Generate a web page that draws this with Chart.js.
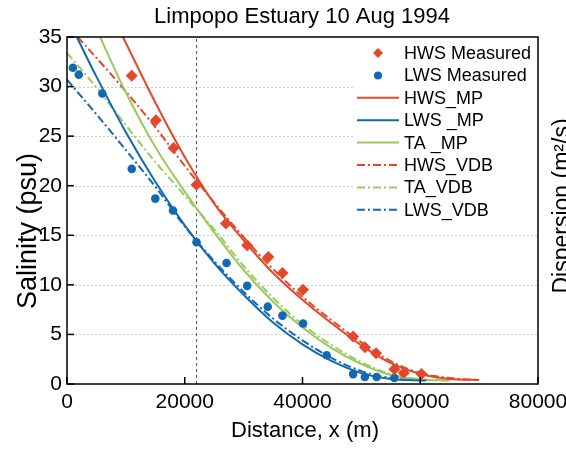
<!DOCTYPE html>
<html>
<head>
<meta charset="utf-8">
<script src="https://cdn.jsdelivr.net/npm/chart.js@4.4.0/dist/chart.umd.min.js"></script>
<style>
  html, body { margin: 0; padding: 0; background: #fff; overflow: hidden; }
</style>
</head>
<body>
<canvas id="chart" width="566" height="451"></canvas>
<script>
// measured salinity
const hwsDist = [11000, 15100, 18100, 22000, 27000, 30600, 34200, 36600, 40100, 48600, 50600, 52500, 55600, 57200, 60200];
const hwsSal  = [31.1, 26.6, 23.8, 20.1, 16.2, 14.0, 12.8, 11.2, 9.5, 4.8, 3.7, 3.1, 1.5, 1.1, 1.0];
const lwsDist = [1000, 2000, 6000, 11000, 15000, 18000, 22000, 27100, 30600, 34100, 36600, 40100, 44100, 48600, 50600, 52600, 55600];
const lwsSal  = [31.9, 31.2, 29.3, 21.7, 18.7, 17.5, 14.3, 12.2, 9.9, 7.8, 6.9, 6.1, 2.9, 1.0, 0.7, 0.7, 0.6];

// model curves
const hwsMpX = [9000, 10000, 15000, 20000, 25000, 30000, 35000, 40000, 45000, 50000, 55000, 60000, 65000, 70000];
const hwsMpY = [35.6, 34.4, 28.4, 22.9, 18.2, 14.5, 11.2, 8.5, 6.1, 3.9, 2.1, 1.0, 0.5, 0.4];
const lwsMpX = [0, 2000, 5000, 10000, 15000, 20000, 25000, 30000, 35000, 40000, 45000, 50000, 55000, 58000, 61000];
const lwsMpY = [37.1, 34.6, 31.0, 25.4, 20.4, 16.0, 12.2, 9.0, 6.2, 4.0, 2.3, 1.1, 0.5, 0.4, 0.35];
const taMpX  = [5000, 10000, 15000, 20000, 25000, 30000, 35000, 40000, 45000, 50000, 55000, 60000, 65000];
const taMpY  = [35.8, 29.4, 23.9, 19.4, 15.3, 11.5, 8.3, 5.7, 3.6, 2.0, 0.9, 0.45, 0.35];
const hwsVdbX = [0, 5000, 10000, 15000, 20000, 25000, 30000, 35000, 40000, 45000, 50000, 55000, 60000, 65000, 70000];
const hwsVdbY = [36.2, 32.9, 29.5, 25.9, 22.0, 18.3, 14.8, 11.6, 8.8, 6.4, 4.2, 2.3, 1.1, 0.6, 0.4];
const taVdbX  = [0, 5000, 10000, 15000, 20000, 25000, 30000, 35000, 40000, 45000, 50000, 55000, 60000, 65000];
const taVdbY  = [33.4, 29.9, 26.1, 22.4, 19.0, 15.6, 11.9, 8.7, 6.0, 3.9, 2.2, 1.0, 0.5, 0.35];
const lwsVdbX = [0, 5000, 10000, 15000, 20000, 25000, 30000, 35000, 40000, 45000, 50000, 55000, 58000, 61000];
const lwsVdbY = [30.7, 27.2, 23.6, 19.9, 15.9, 12.4, 9.3, 6.6, 4.4, 2.6, 1.3, 0.6, 0.45, 0.4];

// vertical reference line
const refX = [22000, 22000];
const refY = [0, 35];

const xTicks = [0, 20000, 40000, 60000, 80000];
const yTicks = [0, 5, 10, 15, 20, 25, 30, 35];

const RED = "#e5472a";
const BLUE = "#1069b1";
const GREEN = "#9bca5c";
const DASHDOT = [8, 3, 2, 3];
const FONT = "'Liberation Sans', Arial, sans-serif";

const pts = (xs, ys) => xs.map((x, i) => ({ x: x, y: ys[i] }));

const curve = (label, xs, ys, color, dash) => ({
  label: label,
  data: pts(xs, ys),
  showLine: true,
  borderColor: color,
  backgroundColor: color,
  borderWidth: 2,
  borderDash: dash,
  pointRadius: 0,
  cubicInterpolationMode: "monotone",
});

// box, grid, inward ticks, legend and titles
const framePlugin = {
  id: "frame",
  beforeDatasetsDraw(chart) {
    const { ctx, chartArea: a, scales: { y } } = chart;
    ctx.save();
    ctx.strokeStyle = "#cccccc";
    ctx.lineWidth = 1;
    ctx.setLineDash([2, 2]);
    yTicks.slice(1, -1).forEach((v) => {
      const py = Math.round(y.getPixelForValue(v)) + 0.5;
      ctx.beginPath();
      ctx.moveTo(a.left, py);
      ctx.lineTo(a.right, py);
      ctx.stroke();
    });
    ctx.restore();
  },
  afterDraw(chart) {
    const { ctx, chartArea: a, scales: { x, y } } = chart;
    ctx.save();

    // legend background
    ctx.fillStyle = "#fff";
    ctx.fillRect(a.right - 185, a.top + 1, 184, 183);

    // frame
    ctx.strokeStyle = "#000";
    ctx.lineWidth = 1.5;
    ctx.strokeRect(a.left, a.top, a.right - a.left, a.bottom - a.top);

    // inward ticks
    yTicks.forEach((v) => {
      const py = y.getPixelForValue(v);
      ctx.beginPath();
      ctx.moveTo(a.left, py);
      ctx.lineTo(a.left + 7, py);
      ctx.stroke();
    });
    xTicks.forEach((v) => {
      const px = x.getPixelForValue(v);
      ctx.beginPath();
      ctx.moveTo(px, a.bottom);
      ctx.lineTo(px, a.bottom - 7);
      ctx.stroke();
    });

    // legend
    ctx.font = "18px " + FONT;
    ctx.textBaseline = "middle";
    ctx.textAlign = "left";
    const items = chart.data.datasets.filter((d) => d.label);
    items.forEach((d, i) => {
      const ry = a.top + 16 + i * 22.4;
      ctx.fillStyle = d.borderColor;
      ctx.strokeStyle = d.borderColor;
      if (d.showLine) {
        ctx.lineWidth = 2;
        ctx.setLineDash(d.borderDash || []);
        ctx.beginPath();
        ctx.moveTo(a.right - 181, ry);
        ctx.lineTo(a.right - 139, ry);
        ctx.stroke();
        ctx.setLineDash([]);
      } else {
        const cx = a.right - 160;
        ctx.beginPath();
        if (d.pointStyle === "rectRot") {
          ctx.moveTo(cx, ry - 5);
          ctx.lineTo(cx + 5, ry);
          ctx.lineTo(cx, ry + 5);
          ctx.lineTo(cx - 5, ry);
          ctx.closePath();
        } else {
          ctx.arc(cx, ry, 4, 0, Math.PI * 2);
        }
        ctx.fill();
      }
      ctx.fillStyle = "#000";
      ctx.fillText(d.label, a.right - 134, ry + 1);
    });

    // main title
    ctx.fillStyle = "#000";
    ctx.textAlign = "center";
    ctx.textBaseline = "alphabetic";
    ctx.font = "22px " + FONT;
    ctx.fillText("Limpopo Estuary 10 Aug 1994", 302, 23);

    // axis titles
    ctx.textBaseline = "middle";
    ctx.fillText("Distance, x (m)", 305, 431);

    ctx.save();
    ctx.translate(29, 231);
    ctx.rotate(-Math.PI / 2);
    ctx.font = "27px " + FONT;
    ctx.fillText("Salinity (psu)", 0, 0);
    ctx.restore();

    // right-hand axis title, cut off by the page edge
    ctx.save();
    ctx.translate(551, 206);
    ctx.rotate(-Math.PI / 2);
    ctx.font = "23px " + FONT;
    ctx.textBaseline = "top";
    ctx.fillText("Dispersion (m\u00b2/s)", 0, 0);
    ctx.restore();

    ctx.restore();
  },
};

Chart.defaults.font.family = FONT;
Chart.defaults.color = "#000";

new Chart(document.getElementById("chart"), {
  type: "scatter",
  data: {
    datasets: [
      {
        label: "HWS Measured",
        data: pts(hwsDist, hwsSal),
        pointStyle: "rectRot",
        pointRadius: 6,
        pointBorderWidth: 0,
        backgroundColor: RED,
        borderColor: RED,
      },
      {
        label: "LWS Measured",
        data: pts(lwsDist, lwsSal),
        pointStyle: "circle",
        pointRadius: 4.3,
        pointBorderWidth: 0,
        backgroundColor: BLUE,
        borderColor: BLUE,
      },
      curve("HWS_MP", hwsMpX, hwsMpY, RED, []),
      curve("LWS _MP", lwsMpX, lwsMpY, BLUE, []),
      curve("TA _MP", taMpX, taMpY, GREEN, []),
      curve("HWS_VDB", hwsVdbX, hwsVdbY, RED, DASHDOT),
      curve("TA_VDB", taVdbX, taVdbY, GREEN, DASHDOT),
      curve("LWS_VDB", lwsVdbX, lwsVdbY, BLUE, DASHDOT),
      {
        label: "",
        data: pts(refX, refY),
        showLine: true,
        borderColor: "#555",
        borderWidth: 1,
        borderDash: [3, 3],
        pointRadius: 0,
      },
    ],
  },
  options: {
    responsive: false,
    animation: false,
    layout: { padding: { left: 0, right: 28, top: 37, bottom: 0 } },
    plugins: {
      legend: { display: false },
      tooltip: { enabled: false },
      title: { display: false },
    },
    scales: {
      x: {
        type: "linear",
        min: 0,
        max: 80000,
        afterBuildTicks: (s) => { s.ticks = xTicks.map((v) => ({ value: v })); },
        ticks: { font: { size: 21 }, color: "#000", padding: 6, maxRotation: 0, callback: (v) => String(v) },
        grid: { display: false, drawTicks: false },
        border: { display: false },
        afterFit: (s) => { s.height = 67; s.paddingLeft = 0; s.paddingRight = 0; },
      },
      y: {
        min: 0,
        max: 35,
        afterBuildTicks: (s) => { s.ticks = yTicks.map((v) => ({ value: v })); },
        ticks: { font: { size: 21 }, color: "#000", padding: 5 },
        grid: { display: false, drawTicks: false },
        border: { display: false },
        afterFit: (s) => { s.width = 67; s.paddingTop = 0; s.paddingBottom = 0; },
      },
    },
  },
  plugins: [framePlugin],
});
</script>
</body>
</html>
